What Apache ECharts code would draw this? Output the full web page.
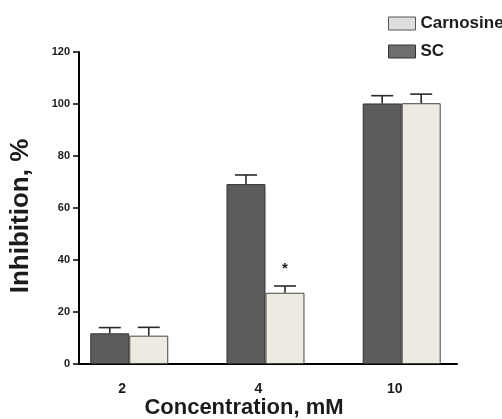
<!DOCTYPE html>
<html>
<head>
<meta charset="utf-8">
<script src="https://cdn.jsdelivr.net/npm/echarts@6/dist/echarts.min.js"></script>
<style>
  html, body { margin: 0; padding: 0; background: #fff; }
  #chart { width: 502px; height: 419px; }
</style>
</head>
<body>
<div id="chart"></div>
<script>
'use strict';

/* ── Data ── */
const categories  = ['2', '4', '10'];          // concentration, mM
const positions   = [1, 2, 3];                 // slot of each group on the x axis
const scValues    = [11.8, 69.2, 100.2];
const scErrors    = [2.2, 3.5, 3.0];
const carnValues  = [10.9, 27.4, 100.3];
const carnErrors  = [3.2, 2.6, 3.5];
const carnMarks   = ['', '*', ''];
const yTicks      = { min: 0, max: 120, interval: 20 };

/* ── Style ── */
const FONT = "'Liberation Sans', Arial, sans-serif";
const INK = '#1c1c1c';
const BAR_W = 39;

function pairs(vals, errs) {
  return vals.map((v, i) => [positions[i], v, errs[i]]);
}

function errorBar(offset, marks) {
  return function (params, api) {
    const x = api.value(0), v = api.value(1), e = api.value(2);
    const base = api.coord([x, v]);
    const top = api.coord([x, v + e]);
    const cx = base[0] + offset;
    const st = { stroke: '#2a2a2a', lineWidth: 1.6 };
    const children = [
      { type: 'line', shape: { x1: cx, y1: base[1], x2: cx, y2: top[1] }, style: st },
      { type: 'line', shape: { x1: cx - 11, y1: top[1], x2: cx + 11, y2: top[1] }, style: st }
    ];
    const m = marks && marks[params.dataIndex];
    if (m) {
      children.push({
        type: 'text',
        style: {
          text: m, x: cx, y: top[1] - 17,
          align: 'center', verticalAlign: 'middle',
          font: 'bold 15px ' + FONT, fill: INK
        }
      });
    }
    return { type: 'group', children };
  };
}

const chart = echarts.init(document.getElementById('chart'), null, { renderer: 'canvas' });

chart.setOption({
  animation: false,
  backgroundColor: '#fff',
  textStyle: { fontFamily: FONT, color: INK },
  grid: { left: 79, right: 45, top: 52, bottom: 55, outerBoundsMode: 'none', containLabel: false },
  legend: {
    orient: 'vertical',
    left: 383,
    top: 10,
    itemWidth: 27,
    itemHeight: 13,
    itemGap: 11,
    icon: 'rect',
    textStyle: { fontSize: 17, fontWeight: 'bold', color: INK, fontFamily: FONT },
    data: [
      { name: 'Carnosine', itemStyle: { color: '#dedede', borderColor: '#555', borderWidth: 1 } },
      { name: 'SC', itemStyle: { color: '#6e6e6e', borderColor: '#333', borderWidth: 1 } }
    ]
  },
  xAxis: {
    type: 'value',
    min: 0.631,
    max: 3.406,
    name: 'Concentration, mM',
    nameLocation: 'middle',
    nameGap: 33,
    nameMoveOverlap: false,
    nameTextStyle: { fontSize: 22, fontWeight: 'bold', color: INK, padding: [0, 48, 0, 0] },
    axisLine: { lineStyle: { color: '#000', width: 2 } },
    axisTick: { show: false },
    splitLine: { show: false },
    axisLabel: {
      customValues: positions,
      formatter: v => categories[positions.indexOf(Math.round(v))] || '',
      fontSize: 14,
      fontWeight: 'bold',
      color: INK,
      margin: 18,
      padding: [0, 14, 0, 0]
    }
  },
  yAxis: {
    type: 'value',
    min: yTicks.min,
    max: yTicks.max,
    interval: yTicks.interval,
    name: 'Inhibition, %',
    nameLocation: 'middle',
    nameRotate: 90,
    nameGap: 45,
    nameMoveOverlap: false,
    nameTextStyle: { fontSize: 26, fontWeight: 'bold', color: INK, padding: [0, 16, 0, 0] },
    axisLine: { show: true, lineStyle: { color: '#000', width: 2 } },
    axisTick: { show: true, length: 6, lineStyle: { color: '#000', width: 1.5 } },
    splitLine: { show: false },
    axisLabel: { fontSize: 11, fontWeight: 'bold', color: INK, margin: 9 }
  },
  series: [
    {
      name: 'SC',
      type: 'bar',
      data: pairs(scValues, scErrors),
      barWidth: BAR_W,
      barGap: '0%',
      itemStyle: { color: '#5c5c5c', borderColor: '#333', borderWidth: 1 }
    },
    {
      name: 'Carnosine',
      type: 'bar',
      data: pairs(carnValues, carnErrors),
      barWidth: BAR_W,
      barGap: '0%',
      itemStyle: { color: '#edebe1', borderColor: '#444', borderWidth: 1 }
    },
    {
      name: 'SC error',
      type: 'custom',
      renderItem: errorBar(-BAR_W / 2, null),
      data: pairs(scValues, scErrors),
      z: 3
    },
    {
      name: 'Carnosine error',
      type: 'custom',
      renderItem: errorBar(BAR_W / 2, carnMarks),
      data: pairs(carnValues, carnErrors),
      z: 3
    }
  ]
});

window.addEventListener('resize', () => chart.resize());
</script>
</body>
</html>
